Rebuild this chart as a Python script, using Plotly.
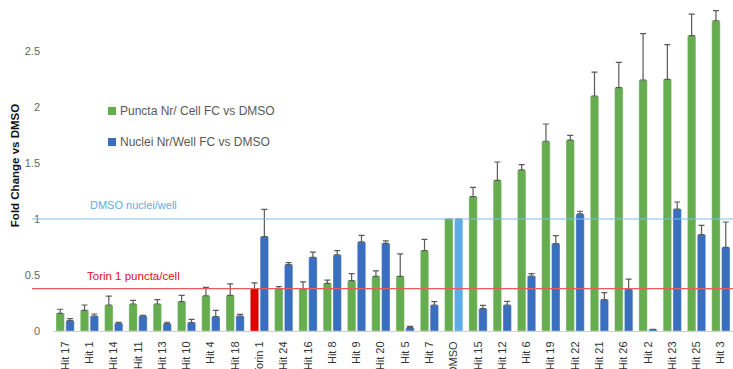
import plotly.graph_objects as go

# Compounds in plotted order
categories = ["Hit 17", "Hit 1", "Hit 14", "Hit 11", "Hit 13", "Hit 10", "Hit 4", "Hit 18",
              "Torin 1", "Hit 24", "Hit 16", "Hit 8", "Hit 9", "Hit 20", "Hit 5", "Hit 7",
              "DMSO", "Hit 15", "Hit 12", "Hit 6", "Hit 19", "Hit 22", "Hit 21", "Hit 26",
              "Hit 2", "Hit 23", "Hit 25", "Hit 3"]

# Puncta number per cell, fold change vs DMSO (mean and upper error)
puncta = [0.158, 0.185, 0.232, 0.241, 0.241, 0.262, 0.313, 0.318, 0.378, 0.378, 0.378, 0.426,
          0.449, 0.488, 0.488, 0.717, 1.0, 1.2, 1.345, 1.438, 1.694, 1.705, 2.098, 2.173,
          2.241, 2.247, 2.637, 2.77]
puncta_err = [0.036, 0.047, 0.08, 0.033, 0.039, 0.056, 0.077, 0.102, 0.052, 0.018, 0.06, 0.029,
              0.063, 0.048, 0.2, 0.101, 0.0, 0.083, 0.164, 0.047, 0.154, 0.042, 0.214, 0.226,
              0.414, 0.31, 0.193, 0.09]

# Nuclei number per well, fold change vs DMSO (mean and upper error)
nuclei = [0.092, 0.134, 0.069, 0.134, 0.065, 0.074, 0.128, 0.134, 0.842, 0.592, 0.658, 0.679,
          0.795, 0.783, 0.03, 0.232, 1.0, 0.2, 0.232, 0.491, 0.78, 1.045, 0.28, 0.372,
          0.015, 1.089, 0.86, 0.747]
nuclei_err = [0.018, 0.018, 0.009, 0.006, 0.013, 0.03, 0.057, 0.015, 0.244, 0.018, 0.047, 0.038,
              0.059, 0.021, 0.012, 0.03, 0.0, 0.029, 0.033, 0.021, 0.071, 0.024, 0.062, 0.092,
              0.0, 0.063, 0.083, 0.226]

series_names = ["Puncta Nr/ Cell FC vs DMSO", "Nuclei Nr/Well FC vs DMSO"]

GREEN = "#66AD50"
BLUE = "#3A6FBF"
RED = "#E00000"
LIGHT_BLUE = "#5BADEA"
ERR = "#5A5A5A"

torin_idx = categories.index("Torin 1")
dmso_idx = categories.index("DMSO")

puncta_colors = [RED if i == torin_idx else GREEN for i in range(len(categories))]
nuclei_colors = [LIGHT_BLUE if i == dmso_idx else BLUE for i in range(len(categories))]

torin_level = puncta[torin_idx]
dmso_level = nuclei[dmso_idx]

fig = go.Figure()
for name, vals, errs, cols in [(series_names[0], puncta, puncta_err, puncta_colors),
                               (series_names[1], nuclei, nuclei_err, nuclei_colors)]:
    fig.add_trace(go.Bar(
        x=categories, y=vals, name=name,
        marker=dict(color=cols, line=dict(color="rgba(255,255,255,0.6)", width=0.6)),
        error_y=dict(type="data", array=errs, arrayminus=[0] * len(errs), symmetric=False,
                     color=ERR, thickness=1.2, width=3),
        showlegend=False,
    ))

W, H = 733, 369
ML, MB = 53, 38
plot_w, plot_h = W - ML, H - MB
px_per_unit = 112.0


def px_x(x):
    return (x - ML) / plot_w


def px_y(y):
    return 1 - y / plot_h


shapes = []
annotations = []

# Reference lines for DMSO nuclei count and Torin 1 puncta
for level, col in [(dmso_level, "#7DBDEB"), (torin_level, "#EC5A5A")]:
    shapes.append(dict(type="line", xref="paper", yref="y", x0=px_x(32), x1=1,
                       y0=level, y1=level, line=dict(color=col, width=1.2), layer="above"))

annotations.append(dict(text="DMSO nuclei/well", xref="paper", yref="paper", x=px_x(88),
                        y=px_y(205), xanchor="left", yanchor="middle", showarrow=False,
                        font=dict(family="Liberation Sans, Arial", size=11, color=LIGHT_BLUE)))
annotations.append(dict(text="Torin 1 puncta/cell", xref="paper", yref="paper", x=px_x(85),
                        y=px_y(276), xanchor="left", yanchor="middle", showarrow=False,
                        font=dict(family="Liberation Sans, Arial", size=11.5, color="#E01010")))

# Legend swatches and labels
for i, (name, col) in enumerate(zip(series_names, [GREEN, BLUE])):
    yc = 111 + i * 31
    shapes.append(dict(type="rect", xref="paper", yref="paper",
                       x0=px_x(108), x1=px_x(116), y0=px_y(yc + 4), y1=px_y(yc - 4),
                       fillcolor=col, line=dict(width=0)))
    annotations.append(dict(text=name, xref="paper", yref="paper", x=px_x(118), y=px_y(yc),
                            xanchor="left", yanchor="middle", showarrow=False,
                            font=dict(family="Liberation Sans, Arial", size=12, color="#595959")))

fig.update_layout(
    width=W, height=H,
    margin=dict(l=ML, r=0, t=0, b=MB, pad=0),
    paper_bgcolor="white", plot_bgcolor="white",
    barmode="group", bargap=0.19, bargroupgap=0.14,
    shapes=shapes, annotations=annotations,
    font=dict(family="Liberation Sans, Arial"),
)
fig.update_xaxes(
    type="category", range=[-0.5, len(categories) - 0.5], automargin=False,
    showline=True, linecolor="#D0D0D0", linewidth=1, showgrid=False,
    tickangle=-90, tickfont=dict(size=11, color="#333333"),
    ticks="", ticklabelstandoff=5,
)
fig.update_yaxes(
    range=[0, plot_h / px_per_unit], tickvals=[0, 0.5, 1, 1.5, 2, 2.5],
    ticktext=["0", "0.5", "1", "1.5", "2", "2.5"], automargin=False,
    showgrid=False, zeroline=False, showline=False,
    tickfont=dict(size=11, color="#666666"), ticklabelstandoff=12,
    title=dict(text="<b>Fold Change vs DMSO</b>", font=dict(size=11.5, color="#111111"),
               standoff=2),
)

fig.write_html("out.html")
